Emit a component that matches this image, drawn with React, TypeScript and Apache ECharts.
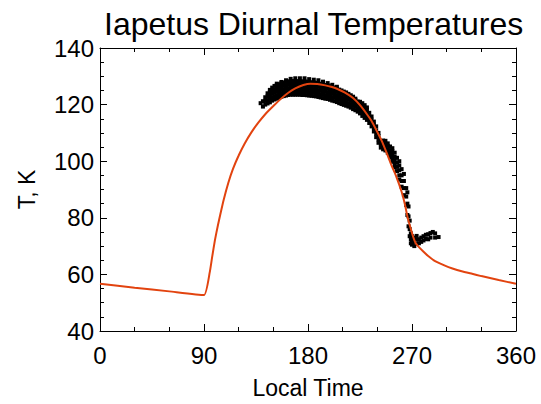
import React, { useEffect, useRef } from "react";
import * as echarts from "echarts";

// Tick values
const xTicks = [0, 90, 180, 270, 360];
const yTicks = [40, 60, 80, 100, 120, 140];

// Model curve (local time in degrees, temperature K)
const modelLon = [0, 30, 60, 90, 95, 97, 99.5, 102, 104, 107, 111, 115, 120, 125, 131, 137, 143, 150, 157, 163, 169, 176, 182, 188, 195, 200, 205, 212, 219, 225, 231, 235, 239, 244, 248, 252, 256, 261, 264, 266, 268.3, 271, 273, 275.4, 280, 284, 290, 298.5, 305, 313, 322, 330, 345, 360];
const modelT = [56.7, 55.3, 54.0, 52.7, 60.8, 66.0, 72.2, 77.3, 81.0, 86.3, 92.3, 97.2, 102.0, 106.1, 110.2, 113.6, 116.6, 119.5, 122.2, 124.2, 125.7, 126.9, 127.4, 127.3, 126.8, 126.3, 125.6, 124.2, 122.3, 119.8, 116.6, 114.2, 111.1, 107.0, 103.0, 98.8, 95.0, 89.2, 84.5, 80.5, 77.0, 73.3, 71.2, 69.9, 68.0, 66.5, 64.7, 63.1, 62.1, 61.1, 60.2, 59.4, 58.0, 56.7];

// Observed temperatures: [local time, temperature]
const observed: [number, number][] = [
  [139, 120.5],
  [141, 119.3], [141, 121.2],
  [143, 120.0], [143, 121.3], [143, 122.6],
  [145, 120.4], [145, 121.6], [145, 122.9], [145, 124.0],
  [147, 120.8], [147, 122.0], [147, 123.2], [147, 124.4], [147, 125.2],
  [149, 121.4], [149, 122.6], [149, 123.8], [149, 125.0], [149, 126.0],
  [151, 121.8], [151, 123.0], [151, 124.2], [151, 125.4], [151, 126.6],
  [153, 122.1], [153, 123.3], [153, 124.5], [153, 125.7], [153, 126.9], [153, 127.4],
  [155, 122.4], [155, 123.6], [155, 124.8], [155, 126.0], [155, 127.2],
  [157, 122.8], [157, 124.0], [157, 125.2], [157, 126.4], [157, 127.6], [157, 128.0],
  [159, 123.0], [159, 124.2], [159, 125.4], [159, 126.6], [159, 127.8],
  [161, 123.2], [161, 124.4], [161, 125.6], [161, 126.8], [161, 128.0], [161, 128.6],
  [163, 123.4], [163, 124.6], [163, 125.8], [163, 127.0], [163, 128.2],
  [165, 123.5], [165, 124.7], [165, 125.9], [165, 127.1], [165, 128.3], [165, 129.1],
  [167, 123.5], [167, 124.7], [167, 125.9], [167, 127.1], [167, 128.3],
  [169, 123.5], [169, 124.7], [169, 125.9], [169, 127.1], [169, 128.3], [169, 129.3],
  [171, 123.5], [171, 124.7], [171, 125.9], [171, 127.1], [171, 128.3],
  [173, 123.5], [173, 124.7], [173, 125.9], [173, 127.1], [173, 128.3], [173, 129.3],
  [175, 123.4], [175, 124.6], [175, 125.8], [175, 127.0], [175, 128.2],
  [177, 123.4], [177, 124.6], [177, 125.8], [177, 127.0], [177, 128.2], [177, 129.3],
  [179, 123.3], [179, 124.5], [179, 125.7], [179, 126.9], [179, 128.1],
  [181, 123.2], [181, 124.4], [181, 125.6], [181, 126.8], [181, 128.0], [181, 129.0],
  [183, 123.1], [183, 124.3], [183, 125.5], [183, 126.7], [183, 127.9],
  [185, 123.0], [185, 124.2], [185, 125.4], [185, 126.6], [185, 127.8], [185, 128.8],
  [187, 122.9], [187, 124.1], [187, 125.3], [187, 126.5], [187, 127.7],
  [189, 122.7], [189, 123.9], [189, 125.1], [189, 126.3], [189, 127.5], [189, 128.6],
  [191, 122.5], [191, 123.7], [191, 124.9], [191, 126.1], [191, 127.3],
  [193, 122.3], [193, 123.5], [193, 124.7], [193, 125.9], [193, 127.1], [193, 128.1],
  [195, 122.1], [195, 123.3], [195, 124.5], [195, 125.7], [195, 126.9],
  [197, 122.0], [197, 123.2], [197, 124.4], [197, 125.6], [197, 126.8], [197, 127.6],
  [199, 121.7], [199, 122.9], [199, 124.1], [199, 125.3], [199, 126.5],
  [201, 121.4], [201, 122.6], [201, 123.8], [201, 125.0], [201, 126.2], [201, 127.0],
  [203, 121.2], [203, 122.4], [203, 123.6], [203, 124.8], [203, 126.0],
  [205, 120.9], [205, 122.1], [205, 123.3], [205, 124.5], [205, 125.7], [205, 126.3],
  [207, 120.5], [207, 121.7], [207, 122.9], [207, 124.1], [207, 125.3],
  [209, 120.2], [209, 121.4], [209, 122.6], [209, 123.8], [209, 125.0],
  [211, 119.9], [211, 121.1], [211, 122.3], [211, 123.5], [211, 124.6],
  [213, 119.6], [213, 120.8], [213, 122.0], [213, 123.2], [213, 124.3],
  [215, 119.3], [215, 120.5], [215, 121.7], [215, 122.9], [215, 123.8],
  [217, 118.9], [217, 120.1], [217, 121.3], [217, 122.5], [217, 123.3],
  [219, 118.4], [219, 119.6], [219, 120.8], [219, 122.0], [219, 122.8],
  [221, 118.0], [221, 119.2], [221, 120.4], [221, 121.6], [221, 122.1],
  [223, 117.5], [223, 118.7], [223, 119.9], [223, 121.1],
  [225, 116.9], [225, 118.1], [225, 119.3], [225, 120.5], [225, 121.0],
  [227, 116.0], [227, 117.2], [227, 118.4], [227, 119.6], [227, 120.5],
  [229, 115.3], [229, 116.5], [229, 117.7], [229, 118.9], [229, 119.8],
  [231, 114.6], [231, 115.8], [231, 117.0], [231, 118.2], [231, 119.0],
  [233, 113.5], [233, 114.7], [233, 115.9], [233, 117.1],
  [235, 112.3], [235, 113.5], [235, 114.7], [235, 115.8],
  [237, 110.5], [237, 111.7], [237, 112.9], [237, 114.0],
  [239, 108.5], [239, 109.7], [239, 110.9], [239, 112.3],
  [241, 106.5], [241, 107.7], [241, 108.9], [241, 110.0],
  [243, 104.8], [243, 106.0], [243, 107.0],
  [245, 104.2], [245, 105.4], [245, 106.6], [245, 107.3],
  [247, 103.8], [247, 105.0], [247, 106.2], [247, 107.2],
  [249, 103.0], [249, 104.2], [249, 105.4], [249, 106.3],
  [251, 101.5], [251, 102.7], [251, 103.9], [251, 105.2],
  [253, 99.8], [253, 101.0], [253, 102.2], [253, 103.5], [253, 104.6],
  [255, 97.8], [255, 99.0], [255, 100.2], [255, 101.5], [255, 103.0],
  [257, 96.5], [257, 98.0], [257, 99.5], [257, 101.2],
  [259, 93.5], [259, 95.0], [259, 96.8], [259, 98.5], [259, 100.0],
  [261, 91.0], [261, 93.0], [261, 95.0], [261, 97.2],
  [263, 88.0], [263, 90.5], [263, 93.0], [263, 95.5],
  [265, 84.5], [265, 87.5], [265, 90.5],
  [266, 81.0], [266, 85.0], [266, 89.0],
  [267, 77.0], [267, 80.5], [267, 84.0],
  [268, 73.5], [268, 76.0], [268, 79.0],
  [269, 71.0], [269, 72.5], [269, 74.5],
  [270, 70.5], [270, 72.0], [270, 73.5],
  [272, 70.0], [272, 71.5], [272, 73.0],
  [274, 70.8], [274, 72.3], [274, 73.6],
  [276, 71.0], [276, 72.4],
  [278, 71.5], [278, 73.0],
  [280, 72.0], [280, 73.5],
  [282, 72.5], [282, 74.0],
  [284, 72.4], [284, 74.2],
  [286, 73.0], [286, 74.6],
  [288, 75.0],
  [290, 73.0], [290, 74.5],
  [293, 73.2],
];

const FONT = "'Liberation Sans', Arial, Helvetica, sans-serif";

export default function App() {
  const ref = useRef<HTMLDivElement>(null);
  useEffect(() => {
    if (!ref.current) return;
    document.body.style.margin = "0";
    const chart = echarts.init(ref.current, undefined, { renderer: "svg" });
    const black = "#000";
    const axisCommon = {
      axisLine: { show: true, onZero: false, lineStyle: { color: black, width: 1 } },
      axisTick: { show: true, inside: true, length: 7, lineStyle: { color: black, width: 1 } },
      splitLine: { show: false },
    };
    const labelStyle = { fontSize: 24, color: black, fontFamily: FONT };
    chart.setOption({
      animation: false,
      backgroundColor: "#fff",
      title: {
        text: "Iapetus Diurnal Temperatures",
        left: 99,
        top: 3,
        textStyle: { fontSize: 32, fontWeight: "normal", color: black, fontFamily: FONT },
      },
      grid: { left: 100, right: 25, top: 48, bottom: 63, containLabel: false },
      xAxis: [
        {
          type: "value",
          min: xTicks[0],
          max: xTicks[xTicks.length - 1],
          interval: 90,
          position: "bottom",
          ...axisCommon,
          minorTick: { show: true, splitNumber: 3, length: 4, lineStyle: { color: black } },
          axisLabel: { ...labelStyle, margin: 12 },
          name: "Local Time",
          nameLocation: "middle",
          nameGap: 45,
          nameTextStyle: { ...labelStyle, fontSize: 23 },
        },
        {
          type: "value",
          min: xTicks[0],
          max: xTicks[xTicks.length - 1],
          interval: 90,
          position: "top",
          ...axisCommon,
          minorTick: { show: true, splitNumber: 3, length: 4, lineStyle: { color: black } },
          axisLabel: { show: false },
        },
      ],
      yAxis: [
        {
          type: "value",
          min: yTicks[0],
          max: yTicks[yTicks.length - 1],
          interval: 20,
          position: "left",
          ...axisCommon,
          minorTick: { show: true, splitNumber: 4, length: 4, lineStyle: { color: black } },
          axisLabel: { ...labelStyle, margin: 6 },
          name: "T, K",
          nameLocation: "middle",
          nameGap: 62,
          nameTextStyle: { ...labelStyle, fontSize: 23 },
        },
        {
          type: "value",
          min: yTicks[0],
          max: yTicks[yTicks.length - 1],
          interval: 20,
          position: "right",
          ...axisCommon,
          minorTick: { show: true, splitNumber: 4, length: 4, lineStyle: { color: black } },
          axisLabel: { show: false },
        },
      ],
      series: [
        {
          type: "scatter",
          xAxisIndex: 0,
          yAxisIndex: 0,
          data: observed,
          symbol: "rect",
          symbolSize: 4,
          itemStyle: { color: black, opacity: 1 },
          z: 2,
        },
        {
          type: "line",
          xAxisIndex: 0,
          yAxisIndex: 0,
          data: modelLon.map((x, i) => [x, modelT[i]]),
          showSymbol: false,
          smooth: 0.15,
          lineStyle: { color: "#e2430f", width: 2 },
          z: 3,
        },
      ],
    });
    return () => chart.dispose();
  }, []);
  return (
    <div
      ref={ref}
      style={{ position: "absolute", left: 0, top: 0, width: 541, height: 404 }}
    />
  );
}
